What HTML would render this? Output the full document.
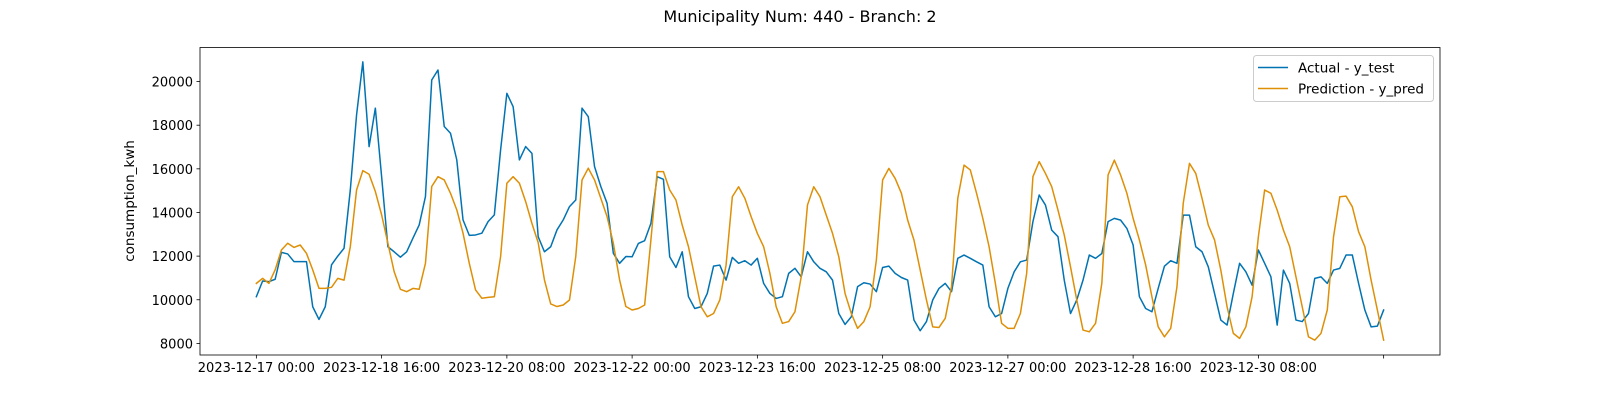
<!DOCTYPE html>
<html><head><meta charset="utf-8"><style>
html,body{margin:0;padding:0;background:#fff;}
svg{display:block;font-family:"DejaVu Sans","Liberation Sans",sans-serif;}
</style></head><body>
<svg id="chart" width="1600" height="400" viewBox="0 0 1600 400">
<text x="800" y="22" text-anchor="middle" font-size="16" fill="#000">Municipality Num: 440 - Branch: 2</text>
<g id="plot"></g>
<text transform="translate(134,201) rotate(-90)" text-anchor="middle" font-size="13.5" fill="#000">consumption_kwh</text>
<g>
<rect x="1253.5" y="55.5" width="180" height="46" rx="3" fill="#fff" fill-opacity="0.8" stroke="#ccc"/>
<line x1="1258" y1="67.5" x2="1288" y2="67.5" stroke="#0173b2" stroke-width="1.5"/>
<text x="1298" y="72.5" font-size="13.5" fill="#000">Actual - y_test</text>
<line x1="1258" y1="88.5" x2="1288" y2="88.5" stroke="#de8f05" stroke-width="1.5"/>
<text x="1298" y="93.5" font-size="13.5" fill="#000">Prediction - y_pred</text>
</g>
</svg>
<script>
// hours since 2023-12-17 00:00, sampled every 2 hours (0..360)
const hourStep = 2;
const actualValues = [10140,10860,10830,10940,12170,12100,11750,11750,11750,9680,9100,9680,
11600,12000,12360,15030,18470,20900,17020,18780,15640,12430,12200,11950,
12200,12820,13430,14730,20070,20530,17940,17630,16410,13660,12950,12970,
13050,13580,13890,16870,19460,18850,16410,17020,16710,12890,12200,12430,
13200,13660,14270,14570,18780,18390,16100,15190,14420,12130,11670,11980,
11970,12580,12710,13500,15640,15520,11970,11480,12200,10140,9600,9680,
10290,11540,11590,10900,11940,11670,11790,11590,11900,10750,10290,10060,
10140,11210,11440,11050,12200,11740,11440,11280,10900,9370,8870,9220,
10600,10780,10720,10370,11480,11540,11210,11020,10900,9070,8580,9000,
9990,10520,10750,10370,11900,12050,11900,11740,11590,9680,9220,9370,
10520,11280,11740,11820,13580,14800,14340,13190,12890,10900,9370,9990,
10900,12050,11900,12120,13580,13730,13650,13270,12510,10140,9600,9450,
10520,11540,11790,11670,13880,13880,12430,12200,11510,10290,9070,8840,
10290,11670,11280,10670,12280,11670,11050,8840,11360,10750,9070,9000,
9370,10980,11050,10750,11360,11440,12050,12050,10750,9530,8760,8790,9530];
const predValues = [10750,10980,10750,11370,12280,12590,12400,12510,12130,11370,10520,10520,
10570,10980,10900,12430,15030,15920,15750,14960,13890,12590,11290,10480,
10370,10520,10480,11670,15190,15640,15490,14880,14120,13050,11670,10450,
10070,10110,10140,11980,15340,15640,15340,14500,13500,12620,10910,9810,
9690,9760,9990,11980,15490,16030,15490,14650,13810,12590,10910,9690,
9530,9600,9760,12740,15870,15870,15030,14570,13420,12430,11050,9680,
9220,9370,9990,11590,14720,15180,14650,13810,13040,12430,11210,9680,
8920,9000,9450,11050,14340,15180,14720,13880,13040,11970,10290,9370,
8690,9000,9680,11820,15490,16020,15560,14880,13650,12740,11360,9990,
8760,8730,9150,10600,14650,16170,15950,14880,13730,12430,10750,8920,
8690,8690,9370,11210,15640,16330,15790,15180,14110,12970,11510,9990,
8610,8530,8920,10750,15720,16400,15720,14880,13730,12740,11590,10140,
8760,8300,8690,10600,14420,16250,15790,14650,13420,12740,11360,9680,
8460,8230,8760,10140,12890,15030,14880,14110,13190,12430,11050,9680,
8300,8150,8460,9530,12890,14720,14750,14260,13120,12430,10900,9530,8150];
const xTickHours = [0,40,80,120,160,200,240,280,320,360];
const xTickLabels = ["2023-12-17 00:00","2023-12-18 16:00","2023-12-20 08:00","2023-12-22 00:00","2023-12-23 16:00","2023-12-25 08:00","2023-12-27 00:00","2023-12-28 16:00","2023-12-30 08:00",""];
const yTickValues = [8000,10000,12000,14000,16000,18000,20000];

const NS = "http://www.w3.org/2000/svg";
const L = 200, R = 1440, T = 47.5, B = 355;
function xScale(h){ return L + (h + 18) / 396 * (R - L); }
function yScale(v){ return 343.4 - (v - 8000) * 0.02182; }
const plot = document.getElementById('plot');
function mk(tag, attrs){ const e = document.createElementNS(NS, tag); for (const k in attrs) e.setAttribute(k, attrs[k]); return e; }

function series(vals, color, name){
  const d = vals.map((v,i)=> (i?'L':'M') + xScale(i*hourStep).toFixed(2) + ',' + yScale(v).toFixed(2)).join(' ');
  const p = mk('path', {d:d, fill:'none', stroke:color, 'stroke-width':1.5, 'stroke-linejoin':'round', 'stroke-linecap':'square'});
  
  
  plot.appendChild(p);
}
series(actualValues, '#0173b2', 'actual-line');
series(predValues, '#de8f05', 'prediction-line');

const frame = mk('rect', {x:L, y:T, width:R-L, height:B-T, fill:'none', stroke:'#000', 'stroke-width':0.8});


plot.appendChild(frame);

xTickHours.forEach((h,i)=>{
  const x = xScale(h);
  const t = mk('line', {x1:x, y1:B, x2:x, y2:B+3.5, stroke:'#000', 'stroke-width':0.8});
  
  
  plot.appendChild(t);
  const lb = mk('text', {x:x, y:B+17, 'text-anchor':'middle', 'font-size':13, fill:'#000'});
  lb.textContent = xTickLabels[i];
  
  
  plot.appendChild(lb);
});
yTickValues.forEach(v=>{
  const y = yScale(v);
  const t = mk('line', {x1:L-3.5, y1:y, x2:L, y2:y, stroke:'#000', 'stroke-width':0.8});
  
  
  plot.appendChild(t);
  const lb = mk('text', {x:L-7, y:y+5, 'text-anchor':'end', 'font-size':13, fill:'#000'});
  lb.textContent = String(v);
  
  
  plot.appendChild(lb);
});
</script>
</body></html>
